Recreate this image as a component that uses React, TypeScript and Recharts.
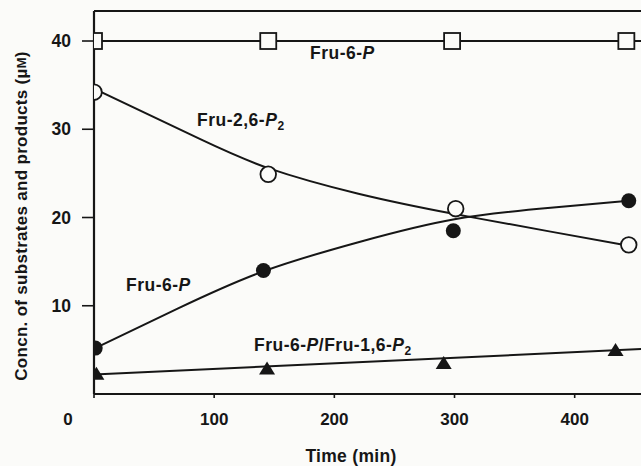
import React from "react";
import {
  ComposedChart,
  Line,
  Scatter,
  XAxis,
  YAxis,
  ReferenceLine,
  Customized,
} from "recharts";

// Measured points (time in min, concentration in µM)
const fru6pTopTime = [0, 145, 298, 443];
const fru6pTopConc = [40, 40, 40, 40];

const fru26p2Time = [0, 145, 301, 445];
const fru26p2Conc = [34.2, 24.9, 21.0, 16.9];

const fru6pTime = [1, 141, 299, 445];
const fru6pConc = [5.2, 14.0, 18.5, 21.9];

const fru16p2Time = [2, 144, 291, 434];
const fru16p2Conc = [2.3, 2.9, 3.5, 5.0];

// Fitted curves drawn through the measurements
const fru6pTopFitTime = [0, 471];
const fru6pTopFitConc = [40, 40];

const fru26p2FitTime = [0, 88, 145, 220, 300, 380, 445];
const fru26p2FitConc = [34.6, 28.9, 25.6, 22.7, 20.4, 18.4, 16.8];

const fru6pFitTime = [1, 70, 141, 220, 300, 380, 445];
const fru6pFitConc = [5.2, 9.7, 13.9, 17.2, 19.8, 21.1, 21.9];

const fru16p2FitTime = [0, 471];
const fru16p2FitConc = [2.2, 5.2];

const xTicks = [0, 100, 200, 300, 400];
const yTicks = [10, 20, 30, 40];
const xMax = 471;
const yMax = 43.4;

const toRows = (t: number[], v: number[]) => t.map((x, i) => ({ t: x, v: v[i] }));

const INK = "#161616";
const PAPER = "#fbfbf9";
const FONT = "'Liberation Sans', Arial, sans-serif";

const OpenSquare = (p: any) => (
  <rect x={p.cx - 8} y={p.cy - 8} width={16} height={16} fill={PAPER} stroke={INK} strokeWidth={1.8} />
);
const OpenCircle = (p: any) => (
  <circle cx={p.cx} cy={p.cy} r={7.8} fill={PAPER} stroke={INK} strokeWidth={1.8} />
);
const FilledCircle = (p: any) => <circle cx={p.cx} cy={p.cy} r={7.5} fill={INK} />;
const FilledTriangle = (p: any) => (
  <polygon
    points={`${p.cx},${p.cy - 7} ${p.cx + 8},${p.cy + 6} ${p.cx - 8},${p.cy + 6}`}
    fill={INK}
  />
);

const XTick = (p: any) => {
  const isOrigin = p.payload.value === 0;
  return (
    <text
      x={isOrigin ? p.x - 26 : p.x}
      y={p.y}
      dy="0.71em"
      textAnchor="middle"
      fontFamily={FONT}
      fontWeight="bold"
      fontSize={17}
      fill={INK}
    >
      {p.payload.value}
    </text>
  );
};

const txt = {
  fontFamily: FONT,
  fontWeight: "bold" as const,
  fontSize: 17.5,
  letterSpacing: 0.5,
  fill: INK,
};

const Annotations = () => (
  <g>
    <text x={310} y={59} {...txt}>
      Fru-6-<tspan fontStyle="italic">P</tspan>
    </text>
    <text x={197} y={126} {...txt}>
      Fru-2,6-<tspan fontStyle="italic">P</tspan>
      <tspan fontSize={12} dy={4}>2</tspan>
    </text>
    <text x={126} y={291} {...txt}>
      Fru-6-<tspan fontStyle="italic">P</tspan>
    </text>
    <text x={254} y={351} {...txt}>
      Fru-6-<tspan fontStyle="italic">P</tspan>/Fru-1,6-<tspan fontStyle="italic">P</tspan>
      <tspan fontSize={12} dy={4}>2</tspan>
    </text>
    <text x={351} y={462} textAnchor="middle" {...txt} letterSpacing={0.3}>
      Time (min)
    </text>
    <text
      x={23}
      y={216}
      textAnchor="middle"
      transform="rotate(-90 23 216)"
      dominantBaseline="middle"
      {...txt}
      fontSize={17}
      letterSpacing={0.3}
    >
      Concn. of substrates and products (µ<tspan fontSize={13}>M</tspan>)
    </text>
  </g>
);

export default function App() {
  return (
    <div
      style={{
        position: "absolute",
        left: 0,
        top: 0,
        width: 641,
        height: 466,
        overflow: "hidden",
        background: PAPER,
      }}
    >
      <ComposedChart
        width={660}
        height={466}
        margin={{ top: 11, right: 0, bottom: 42, left: 0 }}
      >
        <XAxis
          type="number"
          dataKey="t"
          domain={[0, xMax]}
          ticks={xTicks}
          allowDataOverflow
          axisLine={{ stroke: INK, strokeWidth: 2.2 }}
          tickLine={{ stroke: INK, strokeWidth: 1.6 }}
          tickSize={4}
          tickMargin={15}
          height={30}
          tick={<XTick />}
        />
        <YAxis
          type="number"
          dataKey="v"
          domain={[0, yMax]}
          ticks={yTicks}
          allowDataOverflow
          width={94}
          axisLine={{ stroke: INK, strokeWidth: 2.2 }}
          tickLine={{ stroke: INK, strokeWidth: 1.6 }}
          tickSize={12}
          tickMargin={11}
          tick={{ fill: INK, fontFamily: FONT, fontWeight: "bold", fontSize: 17.5 }}
        />
        <ReferenceLine y={yMax} stroke={INK} strokeWidth={2.2} ifOverflow="extendDomain" />

        <Line data={toRows(fru6pTopFitTime, fru6pTopFitConc)} dataKey="v" type="linear" stroke={INK} strokeWidth={2} dot={false} isAnimationActive={false} />
        <Line data={toRows(fru26p2FitTime, fru26p2FitConc)} dataKey="v" type="natural" stroke={INK} strokeWidth={2} dot={false} isAnimationActive={false} />
        <Line data={toRows(fru6pFitTime, fru6pFitConc)} dataKey="v" type="natural" stroke={INK} strokeWidth={2} dot={false} isAnimationActive={false} />
        <Line data={toRows(fru16p2FitTime, fru16p2FitConc)} dataKey="v" type="linear" stroke={INK} strokeWidth={2} dot={false} isAnimationActive={false} />

        <Scatter data={toRows(fru6pTopTime, fru6pTopConc)} dataKey="v" shape={OpenSquare} isAnimationActive={false} />
        <Scatter data={toRows(fru26p2Time, fru26p2Conc)} dataKey="v" shape={OpenCircle} isAnimationActive={false} />
        <Scatter data={toRows(fru6pTime, fru6pConc)} dataKey="v" shape={FilledCircle} isAnimationActive={false} />
        <Scatter data={toRows(fru16p2Time, fru16p2Conc)} dataKey="v" shape={FilledTriangle} isAnimationActive={false} />

        <Customized component={Annotations} />
      </ComposedChart>
    </div>
  );
}
